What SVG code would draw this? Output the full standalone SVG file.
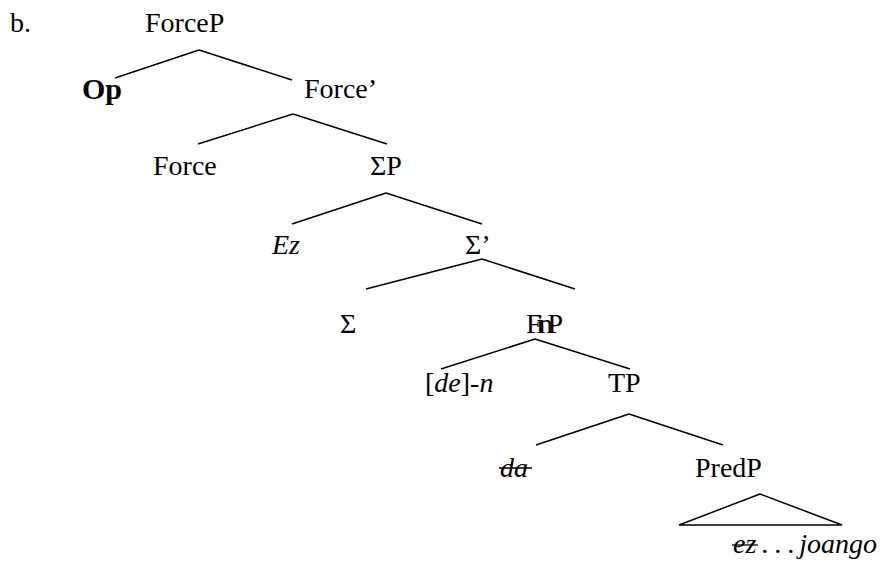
<svg xmlns="http://www.w3.org/2000/svg" width="883" height="561" viewBox="0 0 883 561">
<style>
text{font-family:"Liberation Serif","Times New Roman",serif;font-size:28px;fill:#000}
.i{font-style:italic}
.b{font-weight:bold}
.e line,.e polygon{stroke:#000;stroke-width:1.5;fill:none}
.s{stroke:#000;stroke-width:1.3}
</style>
<rect width="883" height="561" fill="#fff"/>
<text x="10" y="32">b.</text>
<g id="n-forcep"><text x="145" y="32">ForceP</text></g>
<g id="n-op"><text class="b" x="82" y="99" style="font-size:30px">Op</text></g>
<g id="n-forcebar"><text x="304" y="98">Force’</text></g>
<g id="n-force"><text x="153" y="175">Force</text></g>
<g id="n-sigmap"><text x="370" y="175">ΣP</text></g>
<g id="n-ez"><text class="i" x="272" y="254">Ez</text></g>
<g id="n-sigmabar"><text x="465" y="254">Σ’</text></g>
<g id="n-sigma"><text x="340" y="333">Σ</text></g>
<g id="n-finp"><text x="526" y="333" textLength="37" lengthAdjust="spacing">FinP</text></g>
<g id="n-den"><text x="425" y="392">[<tspan class="i">de</tspan>]-<tspan class="i">n</tspan></text></g>
<g id="n-tp"><text x="608" y="392">TP</text></g>
<g id="n-da"><text class="i" x="500" y="477">da</text><line class="s" x1="499" y1="468" x2="532" y2="468"/></g>
<g id="n-predp"><text x="695" y="477">PredP</text></g>
<g id="n-ezjoango"><text x="733" y="553"><tspan class="i">ez</tspan><tspan dx="5">.</tspan><tspan dx="6">.</tspan><tspan dx="6">.</tspan><tspan class="i" dx="5">joango</tspan></text><line class="s" x1="732" y1="545" x2="758" y2="545"/></g>
<g id="edges" class="e">
<line x1="199" y1="50" x2="115" y2="78"/>
<line x1="199" y1="50" x2="292" y2="80"/>
<line x1="293" y1="114" x2="198" y2="144"/>
<line x1="293" y1="114" x2="387" y2="144"/>
<line x1="386" y1="193" x2="292" y2="224"/>
<line x1="386" y1="193" x2="482" y2="224"/>
<line x1="482" y1="259" x2="366" y2="289"/>
<line x1="482" y1="259" x2="575" y2="289"/>
<line x1="535" y1="339" x2="441" y2="369"/>
<line x1="535" y1="339" x2="630" y2="369"/>
<line x1="629" y1="414" x2="536" y2="445"/>
<line x1="629" y1="414" x2="723" y2="445"/>
<polygon points="760,494 679,525 842,525"/>
</g>
</svg>
